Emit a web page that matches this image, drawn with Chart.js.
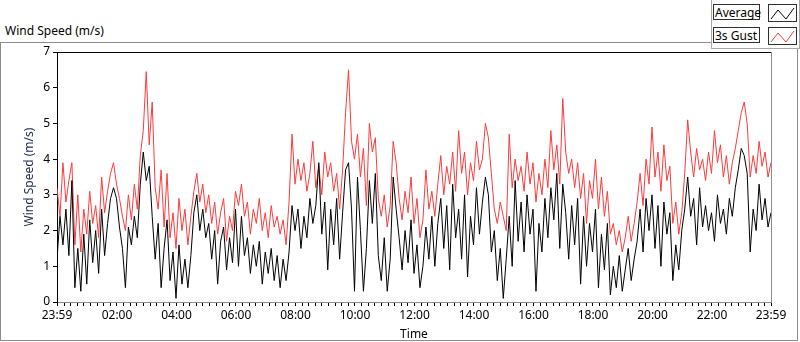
<!DOCTYPE html>
<html>
<head>
<meta charset="utf-8">
<script src="https://cdn.jsdelivr.net/npm/chart.js@4"></script>
<style>
  body { margin: 0; background: #fff; font-family: "Noto Sans", sans-serif; }
  #wrap { position: relative; width: 800px; height: 342px; overflow: hidden; }
  #frame { position: absolute; left: 0; top: 42px; width: 796px; height: 297px; border: 1px solid #8c8c8c; }
  #title { position: absolute; left: 5px; top: 22px; font-size: 12px; color: #000; }
  #legend { position: absolute; left: 711px; top: -1px; width: 87px; height: 49px; background: #fff;
            border: 1px solid #a8a8a8; border-top: none; }
  .lab { position: absolute; left: 1px; width: 47px; height: 16px; border: 1px solid #303030;
         font-size: 12px; line-height: 15px; padding-left: 1px; box-sizing: border-box; background: #fff; }
  .ico { position: absolute; left: 56px; width: 29px; height: 18px; border: 1px solid #303030;
         box-sizing: border-box; background: #fff; }
  canvas { position: absolute; left: 0; top: 0; }
</style>
</head>
<body>
<div id="wrap">
  <div id="frame"></div>
  <div id="title">Wind Speed (m/s)</div>
  <div id="legend">
    <div class="lab" style="top:5px">Average</div>
    <div class="ico" style="top:5px"><svg width="27" height="16"><polyline points="2,13 9,4 17,13 25,2" fill="none" stroke="#000" stroke-width="1"/></svg></div>
    <div class="lab" style="top:28px">3s Gust</div>
    <div class="ico" style="top:28px"><svg width="27" height="16"><polyline points="2,13 9,4 17,13 25,2" fill="none" stroke="#ff3a3a" stroke-width="1"/></svg></div>
  </div>
  <canvas id="wind" width="800" height="342"></canvas>
</div>
<script>
// minutes after 23:59, one sample every 6 minutes
const stepMinutes = 6;

const tickMinutes = [0, 121, 241, 361, 481, 601, 721, 841, 961, 1081, 1201, 1321, 1440];
const tickLabels = ['23:59', '02:00', '04:00', '06:00', '08:00', '10:00', '12:00', '14:00', '16:00', '18:00', '20:00', '22:00', '23:59'];

const gust3s = [
  3.2, 2.4, 3.9, 2.8, 3.4, 3.9, 1.6, 3.0, 1.4, 2.6,
  1.9, 3.1, 2.2, 2.7, 1.8, 3.5, 2.5, 3.1, 3.6, 3.9,
  3.3, 2.9, 2.4, 2.0, 3.0, 2.3, 3.3, 2.6, 4.1, 4.8,
  6.45, 4.4, 5.6, 3.2, 2.6, 3.7, 2.1, 3.6, 1.8, 2.5,
  1.5, 2.9, 2.0, 2.6, 1.6, 2.4, 3.1, 3.6, 2.8, 3.3,
  2.5, 3.0, 2.2, 2.8, 1.9, 2.5, 2.9, 1.7, 2.4, 2.0,
  3.1, 2.7, 3.3, 2.4, 2.8, 1.9, 2.6, 2.2, 2.9, 2.0,
  2.5, 1.8, 2.7, 2.1, 2.4, 1.9, 2.3, 1.6, 2.8, 4.7,
  3.3, 4.0, 3.4, 3.9, 3.1, 3.6, 4.5, 3.2, 3.8, 3.0,
  4.2, 3.5, 3.9, 3.1, 3.6, 2.6, 3.7, 5.3, 6.5, 4.5,
  4.0, 4.7, 3.5, 4.3, 2.7, 5.0, 4.2, 4.6, 2.9, 2.4,
  3.0, 2.1, 2.7, 4.5, 3.9, 2.9, 2.3, 3.1, 2.5, 3.5,
  2.2, 2.9, 1.8, 2.3, 3.7, 2.6, 3.1, 2.4, 3.3, 4.1,
  3.0, 3.8, 3.3, 4.2, 3.1, 4.8, 3.6, 4.2, 3.0, 3.9,
  3.4, 4.5, 3.7, 4.0, 5.0, 4.6, 3.6, 2.6, 2.2, 2.8,
  2.4, 2.0, 4.7, 3.2, 4.0, 3.4, 3.8, 3.1, 4.2, 3.3,
  3.9, 2.8, 3.6, 3.0, 4.0, 3.2, 4.8, 3.7, 4.4, 3.3,
  5.7, 4.2, 3.6, 4.0, 3.2, 3.9, 2.9, 3.6, 2.2, 3.4,
  2.9, 4.0, 2.6, 3.5, 2.4, 3.1, 1.9, 2.2, 1.6, 2.0,
  1.4, 1.8, 2.4, 1.7, 2.2, 2.8, 3.6, 2.7, 4.0, 3.3,
  4.9, 3.5, 4.2, 3.1, 4.4, 3.4, 3.8, 2.2, 2.8, 1.9,
  2.5, 3.6, 5.1, 4.2, 3.5, 4.3, 3.7, 4.0, 3.4, 4.2,
  3.6, 4.8, 3.9, 4.4, 3.5, 4.1, 3.3, 3.9, 4.3, 4.8,
  5.3, 5.6, 5.0, 3.5, 4.1, 3.6, 4.5, 3.8, 4.2, 3.5,
  3.9
];

const average = [
  1.2, 2.4, 1.6, 2.6, 1.3, 3.4, 0.4, 1.5, 0.3, 1.9,
  0.5, 2.3, 1.1, 2.0, 0.8, 2.6, 1.3, 2.2, 2.9, 3.2,
  2.9, 2.1, 1.5, 0.4, 2.1, 1.6, 2.4, 1.8, 3.3, 4.2,
  3.4, 3.8, 2.4, 1.2, 2.2, 0.4, 1.5, 2.3, 0.6, 1.4,
  0.1, 1.6, 0.5, 1.2, 0.4, 1.3, 2.5, 3.0, 2.0, 2.6,
  1.8, 2.2, 1.2, 2.0, 0.5, 1.7, 2.1, 0.9, 1.8, 1.1,
  2.6, 1.0, 2.4, 1.3, 1.8, 0.8, 1.6, 1.0, 1.7, 0.5,
  1.4, 0.8, 1.5, 0.6, 1.3, 0.4, 1.2, 0.6, 1.4, 2.7,
  2.0, 2.6, 1.5, 2.4, 1.8, 2.9, 2.2, 2.7, 3.9, 1.9,
  2.8, 0.9, 2.6, 1.6, 2.9, 1.2, 2.5, 3.7, 3.9, 2.6,
  0.3, 3.5, 2.0, 0.3, 1.5, 3.4, 2.2, 3.6, 1.3, 0.6,
  1.8, 0.3, 1.2, 3.5, 2.6, 1.8, 0.9, 2.0, 1.1, 2.3,
  0.8, 1.6, 0.4, 1.0, 2.1, 1.2, 2.4, 1.0, 2.2, 2.9,
  1.5, 2.7, 0.9, 3.3, 1.8, 2.6, 1.2, 3.0, 0.7, 2.4,
  1.6, 3.2, 1.9, 2.8, 3.5, 3.0, 1.4, 2.0, 0.6, 1.5,
  0.1, 1.2, 2.4, 1.0, 3.4, 1.7, 2.8, 1.4, 3.0, 1.9,
  2.6, 0.3, 2.2, 1.4, 2.9, 1.8, 3.2, 2.3, 3.6, 1.5,
  3.3, 2.5, 1.2, 2.7, 1.6, 2.9, 0.5, 2.4, 1.0, 2.2,
  1.4, 2.6, 0.4, 1.9, 0.9, 2.2, 0.2, 1.0, 0.4, 1.3,
  0.3, 0.9, 1.5, 0.6, 1.2, 1.7, 2.6, 1.4, 2.9, 2.0,
  3.0, 1.5, 2.7, 1.0, 2.8, 1.9, 2.5, 0.6, 1.6, 0.9,
  2.0, 2.6, 3.5, 2.4, 2.9, 1.6, 3.2, 2.1, 2.7, 2.0,
  2.5, 1.7, 3.0, 2.2, 2.6, 1.9, 2.9, 2.4, 3.2, 3.7,
  4.3, 4.1, 3.6, 1.4, 2.6, 2.0, 3.3, 2.3, 2.9, 2.1,
  2.5
];

const avgPoints = average.map((v, i) => ({ x: i * stepMinutes, y: v }));
const gustPoints = gust3s.map((v, i) => ({ x: i * stepMinutes, y: v }));

// small ticks between the labelled ones
const minorTicks = [];
for (let m = 1; m < 1440; m += 120) {
  for (let k = 1; k <= 8; k++) minorTicks.push(m + k * 40 / 3);
}

const plotFrame = {
  id: 'plotFrame',
  afterDraw(chart) {
    const { ctx, chartArea: a } = chart;
    ctx.save();
    ctx.lineWidth = 1;
    ctx.strokeStyle = '#000';
    ctx.beginPath();
    ctx.moveTo(a.left, a.top + 0.5);
    ctx.lineTo(a.right, a.top + 0.5);
    ctx.stroke();
    ctx.strokeStyle = '#8c8c8c';
    ctx.beginPath();
    ctx.moveTo(a.right + 0.5, a.top);
    ctx.lineTo(a.right + 0.5, a.bottom);
    ctx.stroke();
    ctx.restore();
  }
};

const ctx_wind = document.getElementById('wind').getContext('2d');
const windChart = new Chart(ctx_wind, {
    type: 'line',
    data: {
        datasets: [{
            label: 'Average',
            data: avgPoints,
            borderColor: '#000000',
            borderWidth: 1,
            pointRadius: 0,
            tension: 0
        }, {
            label: '3s Gust',
            data: gustPoints,
            borderColor: '#ff3a3a',
            borderWidth: 1,
            pointRadius: 0,
            tension: 0
        }]
    },
    options: {
        responsive: false,
        animation: false,
        layout: { padding: { left: 22, top: 52, right: 29, bottom: 0 } },
        plugins: { legend: { display: false }, tooltip: { enabled: false } },
        scales: {
            x: {
                type: 'linear',
                min: 0,
                max: 1440,
                afterFit(scale) { scale.height = 40; },
                afterBuildTicks(scale) {
                    scale.ticks = tickMinutes.concat(minorTicks).sort((a, b) => a - b).map(v => ({ value: v }));
                },
                ticks: {
                    autoSkip: false,
                    maxRotation: 0,
                    padding: 2,
                    color: '#000',
                    font: { family: 'Noto Sans', size: 12 },
                    callback(value) {
                        const idx = tickMinutes.indexOf(value);
                        return idx >= 0 ? tickLabels[idx] : '';
                    }
                },
                grid: { drawOnChartArea: false, tickLength: 4, tickColor: '#000' },
                border: { color: '#8c8c8c' },
                title: { display: true, text: 'Time', color: '#000', font: { family: 'Noto Sans', size: 12 }, padding: { top: 0, bottom: 0 } }
            },
            y: {
                min: 0,
                max: 7,
                afterFit(scale) { scale.width = 35; },
                ticks: { stepSize: 1, color: '#000', padding: 3, font: { family: 'Noto Sans', size: 12 } },
                grid: { drawOnChartArea: false, tickLength: 4, tickColor: '#000' },
                border: { color: '#000' },
                title: { display: true, text: 'Wind Speed (m/s)', color: '#1c2a55', font: { family: 'Noto Sans', size: 12 }, padding: 0 }
            }
        }
    },
    plugins: [plotFrame]
});
</script>
</body>
</html>
